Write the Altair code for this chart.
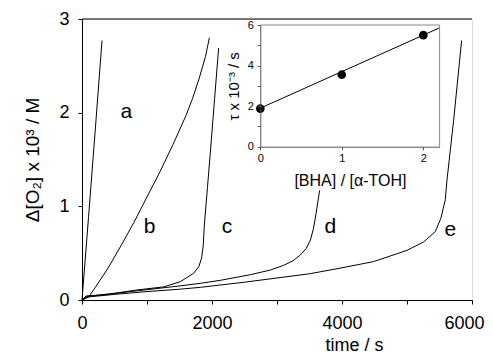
import altair as alt
import pandas as pd

# ---- main curves: time (s) vs Delta[O2] x 10^3 (M) ----
a_t = [0, 100, 200, 308]
a_y = [0, 0.88, 1.78, 2.77]

b_t = [0, 100, 200, 400, 600, 800, 1000, 1200, 1400, 1600, 1700, 1800, 1900, 1960]
b_y = [0, 0.03, 0.13, 0.34, 0.58, 0.83, 1.1, 1.37, 1.66, 1.97, 2.15, 2.36, 2.6, 2.8]

c_t = [0, 60, 332, 846, 1256, 1512, 1717, 1800, 1840, 1865, 1882, 1930, 1974, 2040, 2102]
c_y = [0, 0.04, 0.055, 0.107, 0.14, 0.195, 0.285, 0.36, 0.45, 0.58, 0.8, 1.2, 1.57, 2.15, 2.69]

d_t = [0, 60, 500, 1000, 1500, 1820, 2128, 2589, 2900, 3102, 3250, 3358, 3450, 3514, 3560, 3600, 3656]
d_y = [0, 0.04, 0.07, 0.11, 0.15, 0.178, 0.21, 0.27, 0.32, 0.37, 0.42, 0.48, 0.55, 0.64, 0.76, 0.92, 1.17]

e_t = [0, 60, 500, 1000, 1500, 1820, 2128, 2500, 3000, 3500, 3972, 4486, 5000, 5256, 5435, 5520, 5589, 5615, 5718, 5840]
e_y = [0, 0.03, 0.06, 0.09, 0.115, 0.135, 0.16, 0.19, 0.235, 0.28, 0.34, 0.41, 0.53, 0.62, 0.73, 0.87, 1.07, 1.28, 1.92, 2.77]

label_text = ["a", "b", "c", "d", "e"]
label_t = [682, 1040, 2231, 3820, 5666]
label_y = [2.01, 0.78, 0.78, 0.78, 0.75]

# ---- inset: tau x 10^-3 (s) vs [BHA]/[alpha-TOH] ----
ratio = [0, 1, 2]
tau = [1.88, 3.55, 5.5]
fit_x = [0, 2.2]
fit_y = [1.9, 5.86]

FONT = "Liberation Sans"

rows = []
for name, ts, ys in [("a", a_t, a_y), ("b", b_t, b_y), ("c", c_t, c_y), ("d", d_t, d_y), ("e", e_t, e_y)]:
    for i, (t, y) in enumerate(zip(ts, ys)):
        rows.append({"series": name, "t": t, "o2": y, "order": i})
curves_df = pd.DataFrame(rows)
labels_df = pd.DataFrame({"txt": label_text, "t": label_t, "o2": label_y})
pts_df = pd.DataFrame({"r": ratio, "tau": tau})
fit_df = pd.DataFrame({"r": fit_x, "tau": fit_y, "order": [0, 1]})

W, H = 390, 281

xmain = alt.X(
    "t:Q",
    scale=alt.Scale(domain=[0, 6000], nice=False),
    axis=alt.Axis(
        values=[0, 1000, 2000, 3000, 4000, 5000, 6000],
        labelExpr="datum.value % 2000 === 0 ? datum.label : ''",
        labelAlign=alt.expr("datum.value === 6000 ? 'right' : 'center'"),
        labelOffset=alt.expr("datum.value === 6000 ? 12 : 0"),
        format="d", grid=False, tickSize=4, labelPadding=10, labelFlush=False,
        labelFontSize=18, titleFontSize=18, title="time / s",
        titleFontWeight="normal", titleX=272, titleY=50,
        titleBaseline="alphabetic", titleAnchor="start", titleAlign="center",
        domainColor="black", tickColor="black", labelColor="black",
        titleColor="black", zindex=1,
    ),
)
ymain = alt.Y(
    "o2:Q",
    scale=alt.Scale(domain=[0, 3], nice=False),
    axis=alt.Axis(
        values=[0, 0.5, 1, 1.5, 2, 2.5, 3],
        labelExpr="datum.value % 1 === 0 ? datum.label : ''",
        format="d", grid=False, tickSize=4, labelPadding=9, labelFlush=False,
        labelFontSize=18, titleFontSize=19, title="Δ[O₂] x 10³ / M",
        titleFontWeight="normal", titleX=-44, titleY=140.5,
        titleBaseline="alphabetic", titleAngle=-90, titleAlign="center",
        domainColor="black", tickColor="black", labelColor="black",
        titleColor="black", zindex=1,
    ),
)

curves = alt.Chart(curves_df).mark_line(color="black", strokeWidth=1).encode(
    x=xmain, y=ymain, detail="series:N", order="order:Q"
)
letters = alt.Chart(labels_df).mark_text(
    fontSize=21, font=FONT, color="black", align="center", baseline="middle"
).encode(x="t:Q", y="o2:Q", text="txt:N")
topline = alt.Chart(pd.DataFrame({"k": [0]})).mark_rule(color="black", strokeWidth=1).encode(
    x=alt.value(0), x2=alt.value(W), y=alt.value(0)
)
main = alt.layer(curves, letters, topline)

# inset placed inside the main plot area
IX0, IX1 = 178.3, 357.6
IY0, IY1 = 127.7, 6

xin = alt.X(
    "r:Q",
    scale=alt.Scale(domain=[0, 2.2], range=[IX0, IX1], nice=False),
    axis=alt.Axis(
        orient="bottom", offset=-(H - IY0),
        values=[0, 0.5, 1, 1.5, 2],
        labelExpr="datum.value % 1 === 0 ? datum.label : ''",
        format="d", grid=False, tickSize=3, labelPadding=3, labelFlush=False,
        labelFontSize=11, titleFontSize=16, title="[BHA] / [α-TOH]",
        titleFontWeight="normal", titlePadding=9,
        domainColor="#555", tickColor="#555", labelColor="black",
        titleColor="black", zindex=1,
    ),
)
yin = alt.Y(
    "tau:Q",
    scale=alt.Scale(domain=[0, 6], range=[IY0, IY1], nice=False),
    axis=alt.Axis(
        orient="left", offset=-IX0,
        values=[0, 1, 2, 3, 4, 5, 6],
        labelExpr="datum.value % 2 === 0 ? datum.label : ''",
        format="d", grid=False, tickSize=3, labelPadding=4, labelFlush=False,
        labelFontSize=11, titleFontSize=15, title="τ x 10⁻³ / s",
        titleFontWeight="normal", titlePadding=6,
        domainColor="#555", tickColor="#555", labelColor="black",
        titleColor="black", zindex=1,
    ),
)

frame_df = pd.DataFrame({"k": [0]})
frame_top = alt.Chart(frame_df).mark_rule(color="#888", strokeWidth=1).encode(
    x=alt.datum(0), x2=alt.datum(2.2), y=alt.datum(6)
)
frame_right = alt.Chart(frame_df).mark_rule(color="#888", strokeWidth=1).encode(
    x=alt.datum(2.2), y=alt.datum(0), y2=alt.datum(6)
)
fit_line = alt.Chart(fit_df).mark_line(color="black", strokeWidth=1).encode(
    x=xin, y=yin, order="order:Q"
)
pts = alt.Chart(pts_df).mark_circle(color="black", size=75, opacity=1).encode(x="r:Q", y="tau:Q")
inset = alt.layer(fit_line, frame_top, frame_right, pts)

chart = (
    alt.layer(main, inset)
    .resolve_scale(x="independent", y="independent")
    .properties(
        width=W, height=H,
        autosize=alt.AutoSizeParams(type="none"),
        padding={"left": 74, "top": 11, "right": 13, "bottom": 54},
    )
    .configure_view(stroke="#888", strokeWidth=1)
    .configure(font=FONT)
    .configure_axis(labelFont=FONT, titleFont=FONT)
)

chart.save("out.html", embed_options={"renderer": "svg", "actions": False})
